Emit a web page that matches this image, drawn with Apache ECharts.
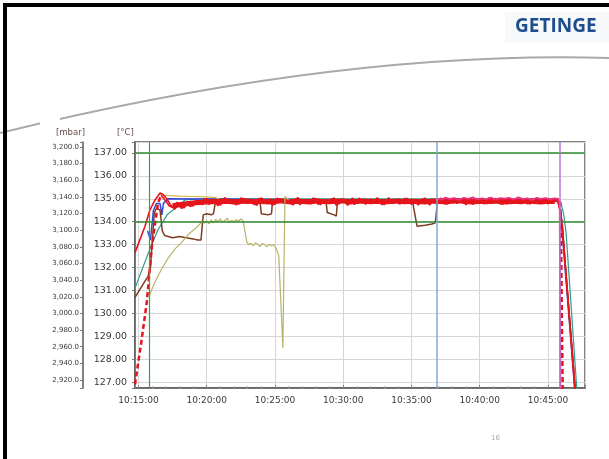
<!DOCTYPE html>
<html><head><meta charset="utf-8">
<script src="https://cdn.jsdelivr.net/npm/echarts@6/dist/echarts.min.js"></script>
<style>html,body{margin:0;padding:0;background:#fff}#c{width:609px;height:459px}</style>
</head><body><div id="c"></div>
<script>
// ---- tick labels ----
const timeTicks = ['10:15:00','10:20:00','10:25:00','10:30:00','10:35:00','10:40:00','10:45:00'];
const tempTicks = [127,128,129,130,131,132,133,134,135,136,137];
const mbarTicks = [2920,2940,2960,2980,3000,3020,3040,3060,3080,3100,3120,3140,3160,3180,3200];

// ---- limits / markers ----
const limitTemps = [137, 134];
const markerTimes = ['10:15:46','10:36:52','10:45:53'];

// ---- series: red solid (pre-plateau rise, plateau samples every 20 s, drop) ----
const redAPreT = ['10:14:45','10:15:29','10:15:50','10:16:13','10:16:35','10:16:47','10:17:05'];
const redAPreV = [132.65,133.8,134.5,134.95,135.25,135.2,135.0];
const redABandStart = '10:17:20';
const redABandV = [
 134.75,134.55,134.82,134.60,134.85,134.68,134.95,134.74,135.02,134.80,
 134.98,134.72,135.05,134.83,134.97,134.76,135.03,134.79,134.94,134.71,
 135.04,134.86,134.99,134.75,135.01,134.80,134.93,134.73,135.06,134.84,
 134.96,134.78,135.02,134.74,134.98,134.82,135.04,134.77,134.95,134.72,
 135.03,134.85,134.97,134.76,135.00,134.81,134.94,134.74,135.05,134.79,
 134.98,134.83,135.02,134.75,134.96,134.80,135.04,134.73,134.99,134.84,
 134.93,134.77,135.03,134.80,134.97,134.74,135.01,134.86,134.95,134.78,
 135.05,134.82,134.98,134.75,135.02,134.79,134.96,134.81,135.00,134.77,
 134.94,134.83,134.99,134.78,135.01];
const redAPostT = ['10:45:45','10:45:53','10:46:01','10:47:00'];
const redAPostV = [134.95,134.5,134.0,126.7];

// ---- series: red second trace ----
const redBPreT = ['10:16:40','10:17:00','10:17:15'];
const redBPreV = [135.15,134.9,134.7];
const redBBandStart = '10:17:30';
const redBBandV = [
 134.62,134.85,134.58,134.78,134.66,134.90,134.80,135.00,134.76,134.92,
 134.70,135.01,134.84,134.95,134.73,135.04,134.81,134.90,134.75,135.02,
 134.79,134.96,134.71,135.03,134.85,134.94,134.77,135.00,134.74,134.97,
 134.83,135.04,134.76,134.92,134.80,135.01,134.72,134.98,134.86,134.95,
 134.75,135.03,134.79,134.93,134.82,135.05,134.74,134.97,134.80,134.91,
 134.77,135.02,134.84,134.96,134.73,135.00,134.81,134.94,134.78,135.03,
 134.75,134.98,134.85,134.92,134.80,134.99,134.76,135.01,134.83,134.94,
 134.79,135.02,134.77,134.96,134.82,134.90,134.80,134.97,134.78,135.00,
 134.83,134.93,134.80,134.95,134.88];
const redBPostT = ['10:45:45','10:45:55','10:46:03','10:46:58'];
const redBPostV = [134.9,134.4,133.9,126.7];

// ---- series: red core trace (samples every 30 s) ----
const redCoreStart = '10:17:30';
const redCoreV = [
 134.70,134.74,134.78,134.82,134.84,134.86,134.88,134.87,134.89,134.86,
 134.88,134.90,134.87,134.89,134.86,134.88,134.91,134.87,134.89,134.88,
 134.86,134.90,134.88,134.87,134.89,134.91,134.86,134.88,134.90,134.87,
 134.89,134.86,134.88,134.90,134.87,134.89,134.88,134.86,134.90,134.88,
 134.87,134.89,134.91,134.88,134.86,134.89,134.87,134.90,134.88,134.86,
 134.89,134.87,134.90,134.88,134.86,134.89,134.88];

// ---- series: red dashed (fast probe: rise, gap, fall) ----
const redDashT = ['10:14:45','10:15:15','10:15:37','10:15:59','10:16:13','10:16:26','10:16:39', null,
                  '10:45:53','10:45:57','10:46:01','10:46:05'];
const redDashV = [126.9,128.9,130.5,132.9,133.9,134.8,135.15, null, 134.9,134.0,130.0,126.7];

// ---- series: pink (end of plateau) ----
const pinkBandStart = '10:36:50';
const pinkBandV = [135.02,134.96,135.05,134.99,135.03,134.95,135.04,135.00,135.06,134.97,
 135.02,134.98,135.05,134.96,135.03,135.01,135.04,134.97,135.06,134.99,
 135.02,134.95,135.04,135.00,135.03,134.98,135.02];
const pinkPostT = ['10:45:45','10:45:52','10:45:55'];
const pinkPostV = [135.0,134.6,126.7];

// ---- series: blue ----
const blueT = ['10:15:40','10:15:53','10:16:06','10:16:20','10:16:35','10:16:43','10:16:50','10:17:10','10:30:00','10:45:40','10:45:55','10:46:58'];
const blueV = [133.6,133.2,134.5,134.8,134.8,134.3,134.8,135.0,134.95,134.95,134.5,126.7];

// ---- series: teal ----
const tealT = ['10:14:45','10:15:50','10:16:26','10:17:06','10:17:50','10:18:25','10:19:30','10:30:00','10:45:45','10:45:58','10:46:10','10:46:20','10:47:07'];
const tealV = [131.1,132.8,133.65,134.3,134.65,134.95,135.0,135.0,135.0,134.8,134.3,133.5,126.7];

// ---- series: gold ----
const goldT = ['10:16:35','10:17:00','10:18:00','10:19:00','10:20:00','10:20:40','10:21:00'];
const goldV = [135.2,135.15,135.12,135.1,135.08,135.05,134.95];

// ---- series: brown ----
const brownT = ['10:14:45','10:15:35','10:15:42','10:15:53','10:16:10','10:16:20','10:16:35','10:16:45','10:16:55','10:17:30','10:18:00','10:18:30','10:19:00','10:19:20','10:19:35','10:19:45','10:20:00','10:20:20','10:20:30','10:20:40',
 '10:23:54','10:24:00','10:24:30','10:24:45','10:24:50',
 '10:28:44','10:28:50','10:29:20','10:29:30','10:29:35',
 '10:35:05','10:35:10','10:35:25','10:36:00','10:36:30','10:36:45','10:36:52','10:36:55',
 '10:45:45','10:45:55','10:46:01','10:47:00'];
const brownV = [130.7,131.5,131.6,132.0,134.4,134.6,134.5,133.6,133.4,133.3,133.35,133.3,133.25,133.2,133.2,134.3,134.35,134.3,134.35,134.95,
 134.95,134.35,134.3,134.35,134.95,
 134.95,134.4,134.3,134.25,134.95,
 134.95,134.6,133.8,133.85,133.9,133.95,134.0,134.95,
 134.9,134.4,134.0,126.7];

// ---- series: olive ----
const oliveT = ['10:15:45','10:16:10','10:16:40','10:17:10','10:17:40','10:18:10','10:18:40','10:19:10','10:19:40',
 '10:19:50','10:20:00','10:20:10','10:20:20','10:20:30','10:20:40','10:20:50','10:21:00','10:21:10','10:21:20','10:21:30','10:21:40','10:21:50','10:22:00','10:22:10','10:22:20','10:22:30','10:22:40',
 '10:22:57','10:23:05','10:23:15','10:23:25','10:23:35','10:23:45','10:23:55','10:24:05','10:24:15','10:24:25','10:24:35','10:24:45','10:24:55','10:25:05',
 '10:25:17','10:25:35','10:25:44','10:26:00'];
const oliveV = [130.7,131.3,131.9,132.4,132.8,133.1,133.45,133.7,134.0,
 133.95,134.05,133.9,134.08,133.95,134.1,134.0,134.12,133.98,134.05,134.15,133.97,134.06,133.99,134.1,134.02,134.12,134.05,
 133.1,133.0,133.05,132.95,133.08,133.0,132.92,133.05,133.0,132.9,133.02,132.95,133.0,132.85,
 132.5,128.5,135.1,134.95];

// ---- helpers ----
function toSec(s){ const p=s.split(':').map(Number); return p[0]*3600+p[1]*60+p[2]; }
function secToStr(v){ v=Math.round(v); const h=Math.floor(v/3600), m=Math.floor(v%3600/60), s=v%60;
  return String(h).padStart(2,'0')+':'+String(m).padStart(2,'0')+':'+String(s).padStart(2,'0'); }
function zip(T,V){ return T.map((t,i)=> t===null ? [null,null] : [toSec(t), V[i]]); }
function band(start, step, V){ const s0=toSec(start); return V.map((v,i)=>[s0+i*step, v]); }

const tickSecs = timeTicks.map(toSec);
const X_MIN = toSec('10:14:45'), X_MAX = toSec('10:47:43');

const chart = echarts.init(document.getElementById('c'), null, {renderer:'canvas'});
const lineBase = {type:'line', showSymbol:false, symbol:'none', animation:false, silent:true, yAxisIndex:0, connectNulls:false};

const option = {
  backgroundColor:'#fff',
  animation:false,
  grid:{left:135, right:24, top:142, bottom:71, show:true, borderColor:'#5a5a5a', borderWidth:1.5, backgroundColor:'#fff'},
  xAxis:{type:'value', min:X_MIN, max:X_MAX, minInterval:300, maxInterval:300,
    axisLine:{show:true, lineStyle:{color:'#5a5a5a', width:1.5}},
    axisTick:{show:true, inside:true, length:3, lineStyle:{color:'#888'}},
    minorTick:{show:true, splitNumber:5, length:2, lineStyle:{color:'#aaa'}},
    axisLabel:{margin:8, fontSize:9, color:'#3a3a3a', fontFamily:'DejaVu Sans',
      formatter:v=> tickSecs.indexOf(Math.round(v))>=0 ? secToStr(v) : ''},
    splitLine:{show:true, lineStyle:{color:'#d6d6d6', width:1}}
  },
  yAxis:[
    {type:'value', position:'left', min:126.74, max:137.48, minInterval:1, maxInterval:1,
      axisLine:{show:true, lineStyle:{color:'#5a5a5a', width:1.5}},
      axisTick:{show:true, length:3, lineStyle:{color:'#777'}},
      axisLabel:{margin:8, fontSize:9.5, color:'#3a3a3a', fontFamily:'DejaVu Sans',
        formatter:v=> tempTicks.some(t=>Math.abs(t-v)<1e-6) ? v.toFixed(2) : ''},
      splitLine:{show:true, lineStyle:{color:'#d6d6d6', width:1}}
    },
    {type:'value', position:'left', offset:52, min:2910.4, max:3206, minInterval:20, maxInterval:20,
      axisLine:{show:true, lineStyle:{color:'#5a5a5a', width:1.5}},
      axisTick:{show:true, length:3, lineStyle:{color:'#777'}},
      axisLabel:{margin:4, fontSize:7, color:'#3a3a3a', fontFamily:'DejaVu Sans',
        formatter:v=> mbarTicks.some(t=>Math.abs(t-v)<1e-6) ? v.toLocaleString('en-US',{minimumFractionDigits:1,maximumFractionDigits:1}) : ''},
      splitLine:{show:false}
    }
  ],
  series:[
    Object.assign({}, lineBase, {name:'teal', data:zip(tealT,tealV), lineStyle:{color:'#2f9c8c', width:1.2},
      markLine:{silent:true, symbol:'none', label:{show:false}, animation:false,
        data:[
          {yAxis:limitTemps[0], lineStyle:{color:'#2e8b2e', width:1.6, type:'solid'}},
          {yAxis:limitTemps[1], lineStyle:{color:'#2e8b2e', width:1.6, type:'solid'}},
          {xAxis:toSec(markerTimes[0]), lineStyle:{color:'#3f9f3f', width:1.2, type:'solid'}},
          {xAxis:toSec(markerTimes[1]), lineStyle:{color:'#82aad4', width:1.5, type:'solid'}},
          {xAxis:toSec(markerTimes[2]), lineStyle:{color:'#b77ad6', width:1.5, type:'solid'}}
        ]}}),
    Object.assign({}, lineBase, {name:'blue', data:zip(blueT,blueV), lineStyle:{color:'#3447d6', width:1.5}}),
    Object.assign({}, lineBase, {name:'gold', data:zip(goldT,goldV), lineStyle:{color:'#d8b24a', width:1.2}}),
    Object.assign({}, lineBase, {name:'brown', data:zip(brownT,brownV), lineStyle:{color:'#7c3e22', width:1.5}}),
    Object.assign({}, lineBase, {name:'redCore', data:band(redCoreStart,30,redCoreV), lineStyle:{color:'#e3141b', width:5}}),
    Object.assign({}, lineBase, {name:'redA', data:zip(redAPreT,redAPreV).concat(band(redABandStart,20,redABandV), zip(redAPostT,redAPostV)), lineStyle:{color:'#e3141b', width:1.6}}),
    Object.assign({}, lineBase, {name:'redB', data:zip(redBPreT,redBPreV).concat(band(redBBandStart,20,redBBandV), zip(redBPostT,redBPostV)), lineStyle:{color:'#e8161c', width:1.6}}),
    Object.assign({}, lineBase, {name:'pink', data:band(pinkBandStart,20,pinkBandV).concat(zip(pinkPostT,pinkPostV)), lineStyle:{color:'#f0307a', width:1.8}}),
    Object.assign({}, lineBase, {name:'redDash', data:zip(redDashT,redDashV), lineStyle:{color:'#e3141b', width:2.5, type:[5,3]}}),
    Object.assign({}, lineBase, {name:'olive', data:zip(oliveT,oliveV), lineStyle:{color:'#b9b36a', width:1.2}})
  ],
  graphic:[
    {type:'rect', z:100, shape:{x:3, y:3, width:606, height:4}, style:{fill:'#000'}},
    {type:'rect', z:100, shape:{x:3, y:3, width:4, height:456}, style:{fill:'#000'}},
    {type:'rect', z:-1, shape:{x:505, y:12, width:104, height:31}, style:{fill:'#f8f9fa'}},
    {type:'text', z:100, left:515, top:17, style:{text:'GETINGE', fill:'#1f4e8e', font:'bold 19px "Open Sans", "DejaVu Sans", sans-serif'}},
    {type:'bezierCurve', z:1, shape:{x1:0, y1:133, cpx1:340, cpy1:50, x2:609, y2:58}, style:{stroke:'#a9a9a9', lineWidth:2, fill:null}},
    {type:'rect', z:2, shape:{x:40, y:118, width:20, height:20}, style:{fill:'#fff'}},
    {type:'text', z:100, left:56, top:128, style:{text:'[mbar]', fill:'#6a4c4c', font:'8.5px "DejaVu Sans", sans-serif'}},
    {type:'text', z:100, left:117, top:128, style:{text:'[°C]', fill:'#6a4c4c', font:'8.5px "DejaVu Sans", sans-serif'}},
    {type:'text', z:100, left:491, top:435, style:{text:'16', fill:'#a8a8a8', font:'7px "DejaVu Sans", sans-serif'}}
  ]
};
chart.setOption(option);
</script>
</body></html>
